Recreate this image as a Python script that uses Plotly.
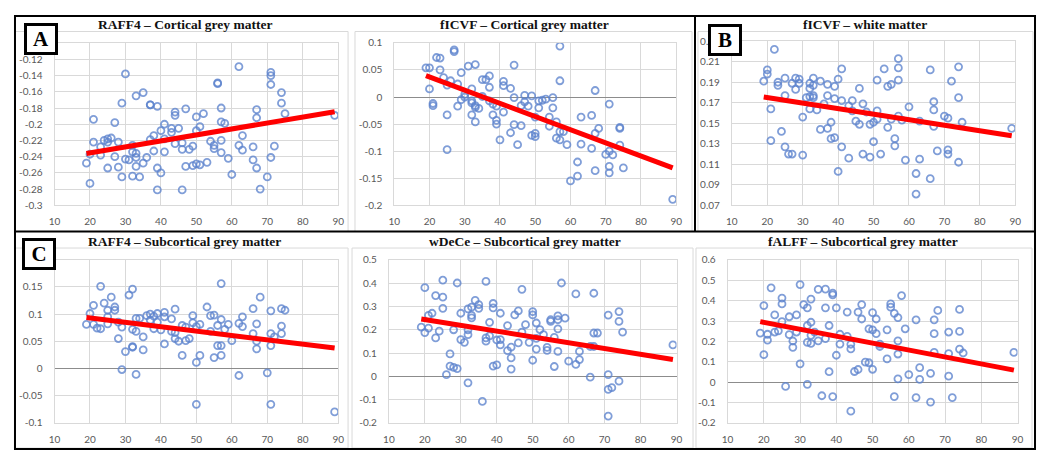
import plotly.graph_objects as go

# The page body keeps the browser's default 8 px margin, so the figure is drawn
# 16 px smaller than the window and all reference pixel positions are shifted by 8.
OFF = 8
W, H = 1050 - 2 * OFF, 464 - 2 * OFF

# ---------------- data (age, value) ----------------
raff4_cortical = [(19,-0.248),(20,-0.273),(21,-0.194),(21,-0.222),(20,-0.237),(23,-0.228),(23,-0.238),(24,-0.22),(25,-0.218),(25,-0.222),
    (25,-0.254),(26,-0.217),(27,-0.198),(27,-0.24),(28,-0.222),(28,-0.253),(29,-0.174),(29,-0.265),(30,-0.138),(30,-0.243),
    (31,-0.244),(32,-0.226),(32,-0.264),(32,-0.234),(33,-0.165),(33,-0.236),(33,-0.241),(33,-0.252),(34,-0.265),(35,-0.161),
    (35,-0.248),(36,-0.241),(37,-0.176),(37,-0.219),(37,-0.176),(38,-0.214),(38,-0.233),(39,-0.178),(39,-0.254),(39,-0.281),
    (40,-0.208),(40,-0.26),(41,-0.218),(41,-0.2),(41,-0.234),(43,-0.205),(43,-0.21),(44,-0.185),(44,-0.189),(44,-0.224),
    (45,-0.205),(46,-0.231),(46,-0.223),(46,-0.281),(47,-0.181),(47,-0.252),(48,-0.231),(49,-0.227),(49,-0.251),(50,-0.191),
    (50,-0.208),(50,-0.249),(51,-0.203),(51,-0.25),(52,-0.187),(53,-0.247),(54,-0.221),(55,-0.226),(55,-0.23),(56,-0.149),
    (56,-0.15),(57,-0.18),(57,-0.197),(57,-0.22),(57,-0.235),(58,-0.199),(59,-0.242),(60,-0.262),(62,-0.129),(62,-0.226),
    (63,-0.214),(63,-0.232),(66,-0.228),(66,-0.244),(67,-0.182),(67,-0.192),(67,-0.254),(68,-0.28),(70,-0.265),(71,-0.136),
    (71,-0.14),(71,-0.151),(71,-0.241),(72,-0.227),(74,-0.161),(74,-0.174),(75,-0.187),(89,-0.189)]

ficvf_cortical = [(19,0.054),(20,0.054),(20,0.015),(21,-0.012),(21,-0.016),(22,0.073),(23,0.072),(23,0.05),(24,0.036),(25,0.022),
    (25,-0.033),(25,-0.097),(26,0.03),(27,0.087),(27,0.084),(28,0.024),(28,-0.017),(29,0.045),(29,-0.005),(30,0.0),
    (30,0.005),(31,0.057),(32,0.015),(32,-0.007),(32,-0.011),(32,-0.033),(33,0.06),(33,-0.016),(33,-0.019),(33,-0.046),
    (34,-0.021),(35,0.032),(35,0.001),(36,0.032),(37,0.039),(37,0.018),(37,-0.007),(38,-0.013),(38,-0.033),(39,-0.017),
    (39,-0.043),(39,-0.05),(40,-0.079),(41,0.029),(41,0.021),(41,-0.028),(43,0.016),(43,-0.066),(44,0.059),(44,-0.001),
    (44,-0.051),(45,-0.088),(46,-0.016),(46,-0.053),(47,0.003),(47,-0.009),(48,-0.017),(49,0.002),(49,-0.071),(50,-0.037),
    (50,-0.073),(50,-0.067),(51,-0.007),(51,-0.02),(52,-0.006),(53,-0.004),(54,-0.037),(54,-0.054),(55,-0.001),(55,-0.02),
    (56,-0.046),(56,-0.076),(57,0.094),(57,0.03),(57,-0.064),(57,-0.079),(58,-0.064),(59,-0.088),(60,-0.155),(62,-0.12),
    (62,-0.146),(63,-0.037),(63,-0.087),(66,-0.034),(66,-0.095),(67,0.012),(67,-0.067),(67,-0.136),(68,-0.058),(70,-0.106),
    (71,-0.013),(71,-0.1),(71,-0.128),(71,-0.14),(72,-0.107),(74,-0.056),(74,-0.058),(74,-0.089),(75,-0.131),(89,-0.189)]

ficvf_white = [(19,0.191),(20,0.202),(20,0.198),(21,0.164),(21,0.133),(22,0.222),(23,0.19),(23,0.187),(24,0.142),(25,0.194),
    (25,0.177),(25,0.127),(26,0.12),(27,0.12),(27,0.189),(28,0.194),(28,0.183),(29,0.193),(29,0.189),(30,0.156),
    (30,0.119),(31,0.175),(32,0.189),(32,0.184),(32,0.176),(32,0.164),(33,0.194),(33,0.187),(33,0.177),(33,0.175),
    (34,0.163),(35,0.191),(35,0.144),(36,0.169),(37,0.188),(37,0.177),(37,0.145),(38,0.151),(38,0.135),(39,0.186),
    (39,0.174),(39,0.136),(40,0.193),(40,0.103),(41,0.203),(41,0.172),(41,0.127),(43,0.167),(43,0.116),(44,0.172),
    (44,0.162),(45,0.152),(46,0.184),(46,0.149),(47,0.169),(47,0.12),(48,0.161),(49,0.149),(49,0.117),(50,0.151),
    (50,0.132),(51,0.192),(51,0.162),(51,0.154),(52,0.12),(53,0.203),(54,0.186),(54,0.146),(55,0.188),(55,0.154),
    (56,0.135),(56,0.128),(57,0.213),(57,0.204),(57,0.192),(57,0.157),(58,0.153),(59,0.114),(60,0.166),(62,0.101),
    (62,0.081),(63,0.115),(63,0.152),(66,0.202),(66,0.096),(67,0.171),(67,0.163),(67,0.147),(68,0.123),(70,0.157),
    (71,0.155),(71,0.124),(71,0.12),(72,0.191),(74,0.205),(74,0.175),(74,0.112),(75,0.151),(89,0.145)]

raff4_subcortical = [(19,0.081),(20,0.101),(21,0.081),(21,0.116),(22,0.074),(23,0.151),(23,0.073),(24,0.12),(25,0.107),(25,0.095),
    (25,0.082),(26,0.131),(27,0.113),(27,0.107),(28,0.085),(28,0.055),(29,0.076),(29,-0.002),(30,0.031),(31,0.135),
    (32,0.146),(32,0.072),(32,0.04),(32,0.039),(33,0.092),(33,0.068),(33,-0.011),(34,0.092),(35,0.058),(35,0.034),
    (36,0.097),(37,0.1),(37,0.089),(38,0.096),(38,0.073),(39,0.101),(39,0.085),(40,0.071),(41,0.103),(41,0.095),
    (41,0.045),(43,0.091),(43,0.068),(44,0.109),(44,0.066),(44,0.055),(45,0.05),(46,0.079),(46,0.024),(47,0.076),
    (47,0.051),(48,0.055),(49,0.097),(49,0.084),(50,0.077),(50,0.011),(50,-0.066),(51,0.081),(51,0.024),(53,0.113),
    (54,0.097),(54,0.068),(55,0.098),(55,0.02),(56,0.079),(56,0.042),(57,0.156),(57,0.09),(57,0.042),(57,0.024),
    (58,0.072),(59,0.081),(60,0.051),(62,0.083),(62,-0.013),(63,0.095),(63,0.077),(66,0.11),(66,0.064),(67,0.082),
    (67,0.05),(67,0.036),(68,0.131),(70,-0.008),(71,0.106),(71,0.064),(71,0.042),(71,-0.066),(72,0.058),(74,0.11),
    (74,0.078),(74,0.064),(75,0.107),(89,-0.08)]

wdece_subcortical = [(19,0.211),(20,0.381),(20,0.188),(21,0.207),(21,0.262),(22,0.271),(23,0.347),(23,0.165),(24,0.194),(25,0.413),
    (25,0.34),(25,0.292),(26,0.007),(27,0.096),(27,0.044),(28,0.2),(28,0.038),(29,0.401),(29,0.033),(30,0.271),
    (30,0.158),(31,0.146),(32,0.29),(32,0.2),(32,0.179),(32,-0.028),(33,0.297),(33,0.262),(33,0.251),(34,0.326),
    (35,0.308),(35,0.292),(36,-0.108),(37,0.408),(37,0.165),(37,0.151),(38,0.232),(38,0.174),(39,0.313),(39,0.294),
    (39,0.044),(40,0.049),(40,0.156),(41,0.271),(41,0.158),(41,0.135),(43,0.218),(43,0.11),(44,0.125),(44,0.079),
    (44,0.031),(45,0.264),(46,0.281),(46,0.144),(47,0.374),(47,0.19),(48,0.222),(49,0.146),(50,0.278),(50,0.264),
    (50,0.069),(51,0.229),(51,0.163),(51,0.117),(52,0.201),(53,0.179),(54,0.124),(54,0.111),(55,0.243),(55,0.236),
    (56,0.167),(56,0.042),(57,0.26),(57,0.243),(57,0.204),(57,0.107),(58,0.401),(59,0.25),(60,0.065),(62,0.354),
    (62,0.051),(63,0.107),(63,0.072),(66,-0.004),(66,0.128),(67,0.357),(67,0.186),(67,0.128),(68,0.186),(71,0.263),
    (71,0.007),(71,-0.056),(71,-0.171),(72,-0.049),(74,0.278),(74,0.236),(74,-0.021),(75,0.19),(89,0.135)]

falff_subcortical = [(19,0.241),(20,0.376),(20,0.135),(21,0.235),(21,0.206),(22,0.463),(23,0.33),(23,0.246),(24,0.252),(25,0.413),
    (25,0.384),(25,0.297),(26,-0.021),(27,0.321),(27,0.233),(28,0.202),(28,0.171),(29,0.33),(29,0.246),(30,0.479),
    (30,0.09),(31,0.381),(32,0.365),(32,0.278),(32,0.195),(32,-0.011),(33,0.408),(33,0.294),(33,0.23),(33,0.19),
    (34,0.246),(35,0.456),(35,0.203),(36,-0.067),(37,0.457),(37,0.365),(37,0.214),(38,0.278),(38,0.051),(39,0.437),
    (39,0.429),(39,-0.071),(40,0.365),(40,0.132),(41,0.235),(41,0.187),(43,0.344),(43,0.225),(44,0.186),(44,0.163),
    (44,-0.143),(45,0.052),(46,0.344),(46,0.062),(47,0.381),(47,0.31),(48,0.098),(49,0.262),(49,0.095),(50,0.341),
    (50,0.257),(50,0.063),(51,0.31),(51,0.238),(52,0.187),(52,0.175),(54,0.257),(54,0.114),(55,0.384),(55,0.368),
    (56,0.338),(56,-0.071),(57,0.317),(57,0.203),(57,0.138),(57,0.016),(58,0.425),(59,0.262),(60,0.037),(62,0.306),
    (62,-0.076),(63,0.071),(63,0.013),(66,0.043),(66,-0.098),(67,0.306),(67,0.238),(67,0.146),(68,0.352),(71,0.246),
    (71,0.14),(71,0.029),(72,-0.076),(74,0.357),(74,0.249),(74,0.162),(75,0.143),(89,0.146)]

# trend line endpoints (age 19 -> 89)
trend_x = [19, 89]
trend_raff4_cortical = [-0.236, -0.1845]
trend_ficvf_cortical = [0.0394, -0.131]
trend_ficvf_white = [0.1756, 0.1378]
trend_raff4_subcortical = [0.0937, 0.0374]
trend_wdece_subcortical = [0.246, 0.072]
trend_falff_subcortical = [0.297, 0.059]

titles = ["RAFF4 \u2013 Cortical grey matter", "fICVF \u2013 Cortical grey matter", "fICVF \u2013 white matter",
          "RAFF4 \u2013 Subcortical grey matter", "wDeCe \u2013 Subcortical grey matter", "fALFF \u2013 Subcortical grey matter"]

x_ticks = [10, 20, 30, 40, 50, 60, 70, 80, 90]
y_ticks = [
    [-0.3, -0.28, -0.26, -0.24, -0.22, -0.2, -0.18, -0.16, -0.14, -0.12, -0.1],
    [-0.2, -0.15, -0.1, -0.05, 0, 0.05, 0.1],
    [0.07, 0.09, 0.11, 0.13, 0.15, 0.17, 0.19, 0.21, 0.23],
    [-0.1, -0.05, 0, 0.05, 0.1, 0.15, 0.2],
    [-0.2, -0.1, 0, 0.1, 0.2, 0.3, 0.4, 0.5],
    [-0.2, -0.1, 0, 0.1, 0.2, 0.3, 0.4, 0.5, 0.6],
]
# top tick labels that the panel-letter boxes hide completely in the reference
hidden_top_label = [True, False, False, True, False, False]

datasets = [raff4_cortical, ficvf_cortical, ficvf_white, raff4_subcortical, wdece_subcortical, falff_subcortical]
trends = [trend_raff4_cortical, trend_ficvf_cortical, trend_ficvf_white,
          trend_raff4_subcortical, trend_wdece_subcortical, trend_falff_subcortical]

# ---------------- layout geometry (window pixels) ----------------
plot_px = [  # x0, x1, y_top, y_bottom
    (49, 336, 37, 204),
    (392.7, 678, 36.7, 204),
    (734.3, 1021, 35, 204),
    (49, 336, 260, 428),
    (387.3, 678.3, 260.3, 428),
    (730, 1023.3, 260.3, 428),
]
title_px = [(181, 18), (524, 18), (869, 18), (181, 241), (525, 241), (867, 241)]
has_zero = [False, True, False, True, True, True]

def px(x):
    return (x - OFF) / W

def py(y):
    return 1 - (y - OFF) / H

fig = go.Figure()
layout = dict(
    width=W, height=H, margin=dict(l=0, r=0, t=0, b=0),
    paper_bgcolor="white", plot_bgcolor="white", showlegend=False,
    annotations=[], shapes=[],
)

tick_font = dict(family="Lato, Open Sans, sans-serif", size=10, color="#595959")
marker_color = "rgba(92,131,205,0.78)"

for i in range(6):
    n = "" if i == 0 else str(i + 1)
    xa, ya = "x" + n, "y" + n
    ages = [p[0] for p in datasets[i]]
    vals = [p[1] for p in datasets[i]]
    fig.add_trace(go.Scatter(
        x=ages, y=vals, mode="markers", xaxis=xa, yaxis=ya,
        marker=dict(symbol="circle-open", size=7, color=marker_color, line=dict(width=1.8, color=marker_color)),
        hoverinfo="skip"))
    fig.add_trace(go.Scatter(
        x=trend_x, y=trends[i], mode="lines", xaxis=xa, yaxis=ya,
        line=dict(color="#ff0000", width=5), hoverinfo="skip"))
    x0, x1, yt, yb = plot_px[i]
    yt_vals = y_ticks[i]
    yt_text = [f"{v:g}" for v in yt_vals]
    if hidden_top_label[i]:
        yt_text[-1] = ""
    layout["xaxis" + n] = dict(
        domain=[px(x0), px(x1)], anchor=ya, range=[10, 90],
        tickvals=x_ticks, ticktext=[str(t) for t in x_ticks],
        showgrid=True, gridcolor="#d9d9d9", gridwidth=1,
        showline=True, linecolor="#d9d9d9", linewidth=1, mirror=True,
        zeroline=False, ticks="outside", ticklen=7, tickcolor="rgba(0,0,0,0)",
        tickfont=tick_font, fixedrange=True)
    layout["yaxis" + n] = dict(
        domain=[py(yb), py(yt)], anchor=xa, range=[yt_vals[0], yt_vals[-1]],
        tickvals=yt_vals, ticktext=yt_text,
        showgrid=True, gridcolor="#d9d9d9", gridwidth=1,
        showline=True, linecolor="#d9d9d9", linewidth=1, mirror=True,
        zeroline=has_zero[i], zerolinecolor="#8c8c8c", zerolinewidth=1,
        ticks="outside", ticklen=9, tickcolor="rgba(0,0,0,0)",
        tickfont=tick_font, fixedrange=True)
    tx, ty = title_px[i]
    layout["annotations"].append(dict(
        x=px(tx), y=py(ty), xref="paper", yref="paper", text="<b>" + titles[i] + "</b>",
        showarrow=False, xanchor="center", yanchor="middle",
        font=dict(family="Liberation Serif, serif", size=13.5, color="#111111")))

# light grey chart frames
frames = [(9, 25, 346, 231), (353, 25, 694, 231), (700, 25, 1039, 231),
          (9, 248, 346, 454), (350, 248, 695, 454), (698, 248, 1038, 454)]
for (a, b, c, d) in frames:
    layout["shapes"].append(dict(type="rect", xref="paper", yref="paper",
        x0=px(a), x1=px(c), y0=py(d), y1=py(b), line=dict(color="#d9d9d9", width=1), layer="below"))

# black panel borders
layout["shapes"].append(dict(type="rect", xref="paper", yref="paper", x0=px(9), x1=px(1041),
    y0=py(455), y1=py(9), line=dict(color="black", width=2), layer="above"))
layout["shapes"].append(dict(type="line", xref="paper", yref="paper", x0=px(9), x1=px(1041),
    y0=py(231), y1=py(231), line=dict(color="black", width=2), layer="above"))
layout["shapes"].append(dict(type="line", xref="paper", yref="paper", x0=px(697), x1=px(697),
    y0=py(231), y1=py(9), line=dict(color="black", width=2), layer="above"))

# panel letters
for letter, cx, cy in [("A", 35, 33), ("B", 727.5, 33.5), ("C", 33.5, 254.5)]:
    layout["annotations"].append(dict(
        x=px(cx), y=py(cy), xref="paper", yref="paper", text="<b>" + letter + "</b>",
        showarrow=False, xanchor="center", yanchor="middle", width=28, height=26,
        bgcolor="white", bordercolor="black", borderwidth=3, borderpad=0,
        font=dict(family="Liberation Serif, serif", size=21, color="black")))

fig.update_layout(**layout)
fig.write_html("out.html")
